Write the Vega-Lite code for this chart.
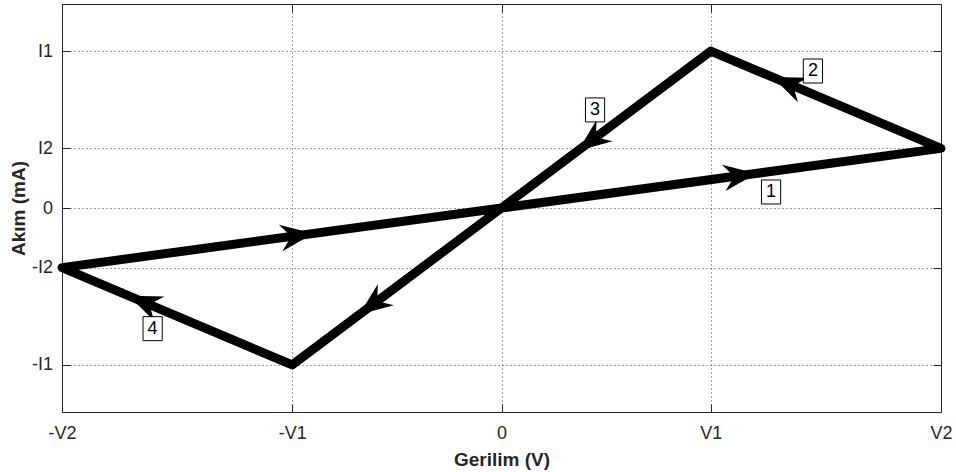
{
  "$schema": "https://vega.github.io/schema/vega-lite/v6.json",
  "width": 879,
  "height": 408,
  "autosize": {"type": "none"},
  "padding": {"left": 62, "top": 4, "right": 15, "bottom": 60},
  "background": "white",
  "config": {
    "view": {"stroke": "#262626", "strokeWidth": 1},
    "font": "Liberation Sans",
    "axis": {
      "domain": false,
      "grid": true,
      "gridDash": [1, 3],
      "gridColor": "#222222",
      "gridOpacity": 0.85,
      "gridWidth": 1,
      "ticks": true,
      "tickSize": -8,
      "tickColor": "#262626",
      "labelFont": "Liberation Sans",
      "labelFontSize": 18,
      "labelColor": "#262626",
      "labelFlush": false,
      "labelOverlap": false,
      "titleFont": "Liberation Sans",
      "titleFontSize": 19,
      "titleFontWeight": "bold",
      "titleColor": "#262626"
    }
  },
  "datasets": {
    "path": [
      {"k": 0, "x": 0, "y": 0},
      {"k": 1, "x": 2.1, "y": 0.38},
      {"k": 2, "x": 1, "y": 1},
      {"k": 3, "x": 0, "y": 0},
      {"k": 4, "x": -1, "y": -1},
      {"k": 5, "x": -2.1, "y": -0.38},
      {"k": 6, "x": 0, "y": 0}
    ],
    "arrows": [
      {"seg": 1, "x": 1.14, "y": 0.206},
      {"seg": 2, "x": 1.368, "y": 0.793},
      {"seg": 3, "x": 0.429, "y": 0.429},
      {"seg": 3, "x": -0.616, "y": -0.616},
      {"seg": 4, "x": -1.708, "y": -0.601},
      {"seg": 5, "x": -0.977, "y": -0.177}
    ],
    "labels": [
      {"lab": "1", "x": 1.288, "y": 0.102},
      {"lab": "2", "x": 1.488, "y": 0.873},
      {"lab": "3", "x": 0.447, "y": 0.625},
      {"lab": "4", "x": -1.667, "y": -0.769}
    ]
  },
  "resolve": {"axis": {"x": "independent", "y": "independent"}},
  "layer": [
    {
      "data": {"name": "path"},
      "mark": {"type": "line", "color": "black", "strokeWidth": 9, "strokeJoin": "round", "strokeCap": "round"},
      "encoding": {
        "x": {
          "field": "x", "type": "quantitative",
          "scale": {"domain": [-2.1, 2.1], "nice": false, "zero": false},
          "axis": {
            "orient": "bottom",
            "values": [-2.1, -1, 0, 1, 2.1],
            "labelExpr": "datum.value == 0 ? '0' : (datum.value > 1.5 ? 'V2' : (datum.value > 0 ? 'V1' : (datum.value < -1.5 ? '-V2' : '-V1')))",
            "labelPadding": 20,
            "title": "Gerilim (V)",
            "titlePadding": 8
          }
        },
        "y": {
          "field": "y", "type": "quantitative",
          "scale": {"domain": [-1.3, 1.3], "nice": false, "zero": false},
          "axis": {
            "orient": "left",
            "values": [-1, -0.38, 0, 0.38, 1],
            "labelExpr": "datum.value == 0 ? '0' : (datum.value > 0.7 ? 'I1' : (datum.value > 0 ? 'I2' : (datum.value < -0.7 ? '-I1' : '-I2')))",
            "labelPadding": 17.5,
            "title": "Akım (mA)",
            "titlePadding": 3
          }
        },
        "order": {"field": "k", "type": "quantitative"}
      }
    },
    {
      "data": {"name": "arrows"},
      "transform": [{"filter": "datum.seg == 1 || datum.seg == 5"}],
      "mark": {"type": "point", "shape": "M0,-1L0.8,1L0,0.35L-0.8,1Z", "filled": true, "color": "black", "opacity": 1, "size": 1100, "angle": 82.3},
      "encoding": {
        "x": {
          "field": "x", "type": "quantitative",
          "axis": {"orient": "top", "values": [-2.1, -1, 0, 1, 2.1], "labels": false, "grid": false, "title": null}
        },
        "y": {
          "field": "y", "type": "quantitative",
          "axis": {"orient": "right", "values": [-1, -0.38, 0, 0.38, 1], "labels": false, "grid": false, "title": null}
        }
      }
    },
    {
      "data": {"name": "arrows"},
      "transform": [{"filter": "datum.seg == 2 || datum.seg == 4"}],
      "mark": {"type": "point", "shape": "M0,-1L0.8,1L0,0.35L-0.8,1Z", "filled": true, "color": "black", "opacity": 1, "size": 1100, "angle": 292.9},
      "encoding": {
        "x": {"field": "x", "type": "quantitative", "axis": null},
        "y": {"field": "y", "type": "quantitative", "axis": null}
      }
    },
    {
      "data": {"name": "arrows"},
      "transform": [{"filter": "datum.seg == 3"}],
      "mark": {"type": "point", "shape": "M0,-1L0.8,1L0,0.35L-0.8,1Z", "filled": true, "color": "black", "opacity": 1, "size": 1100, "angle": 233.1},
      "encoding": {
        "x": {"field": "x", "type": "quantitative", "axis": null},
        "y": {"field": "y", "type": "quantitative", "axis": null}
      }
    },
    {
      "data": {"name": "labels"},
      "mark": {"type": "point", "shape": "M-0.8,-1H0.8V1H-0.8Z", "filled": true, "fill": "white", "stroke": "black", "strokeWidth": 1, "opacity": 1, "size": 576},
      "encoding": {
        "x": {"field": "x", "type": "quantitative", "axis": null},
        "y": {"field": "y", "type": "quantitative", "axis": null}
      }
    },
    {
      "data": {"name": "labels"},
      "mark": {"type": "text", "font": "Liberation Sans", "fontSize": 18, "align": "center", "baseline": "middle", "color": "black"},
      "encoding": {
        "x": {"field": "x", "type": "quantitative", "axis": null},
        "y": {"field": "y", "type": "quantitative", "axis": null},
        "text": {"field": "lab", "type": "nominal"}
      }
    }
  ]
}
